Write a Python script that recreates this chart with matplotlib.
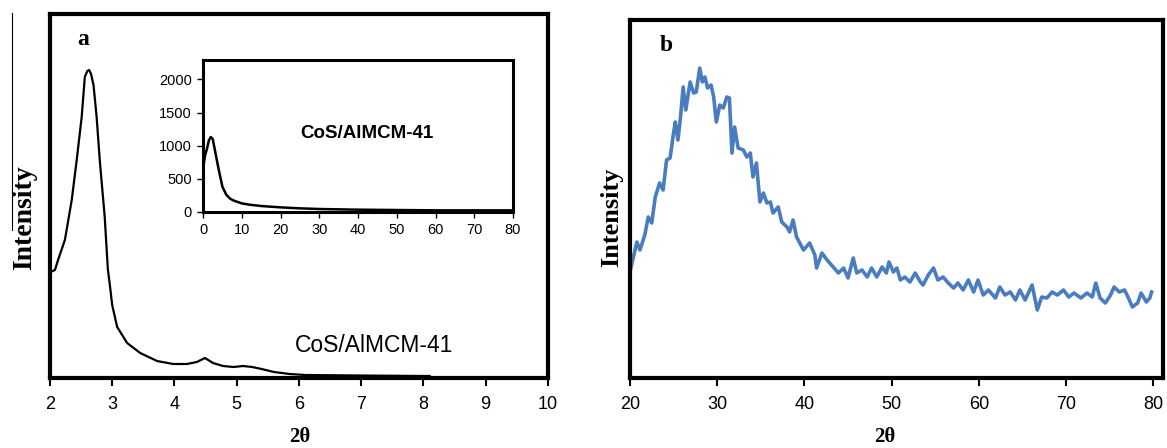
import matplotlib
matplotlib.use('Agg')
import matplotlib.pyplot as plt
from matplotlib.lines import Line2D

# panel a: low-angle pattern (relative intensity, no scale)
xa = [2.0, 2.01, 2.08, 2.13, 2.24, 2.35, 2.43, 2.51, 2.56, 2.6, 2.63, 2.66, 2.70, 2.75,
      2.80, 2.88, 2.93, 2.97, 3.0, 3.08, 3.24, 3.45, 3.72, 3.98, 4.2, 4.36, 4.49, 4.62,
      4.78, 4.95, 5.1, 5.25, 5.4, 5.6, 5.85, 6.1, 7.0, 8.0, 8.1]
ya = [130, 105, 107, 117, 137, 177, 217, 260, 300, 306, 307, 303, 292, 260,
      217, 160, 108, 88, 72, 50, 34, 24, 16, 13, 13, 15, 19, 14,
      11, 10, 11, 10, 8, 5, 3, 2, 1.5, 1, 1]

# inset: full range pattern
x_in = [0, 0.5, 1, 1.5, 2, 2.5, 3, 4, 5, 6, 7, 8, 10, 12, 15, 20, 25, 30, 40, 50, 60, 70, 80]
y_in = [650, 850, 950, 1080, 1130, 1100, 950, 650, 380, 260, 200, 170, 130, 110, 90,
        70, 55, 45, 35, 30, 25, 25, 25]

# panel b: wide-angle pattern
xb = [20.0, 20.8, 21.15, 21.7, 22.1, 22.5, 22.9, 23.4, 23.8, 24.2, 24.6, 25.0, 25.2,
      25.5, 25.8, 26.1, 26.4, 26.9, 27.3, 27.6, 28.0, 28.3, 28.6, 28.9, 29.3, 29.6,
      29.9, 30.3, 30.7, 31.1, 31.4, 31.7, 32.0, 32.4, 33.0, 33.4, 33.8, 34.1, 34.5,
      34.9, 35.3, 35.7, 36.1, 36.4, 37.0, 37.4, 38.0, 38.3, 38.7, 39.1, 39.9, 40.6,
      41.2, 41.4, 42.0, 42.6, 43.3, 43.9, 44.5, 45.0, 45.6, 46.0, 46.6, 47.2, 47.7,
      48.3, 48.9, 49.4, 49.7, 50.2, 50.6, 51.0, 51.5, 52.1, 52.7, 53.3, 53.6, 54.2,
      54.8, 55.3, 55.9, 56.5, 57.1, 57.6, 58.2, 58.8, 59.4, 59.9, 60.5, 61.1, 61.9,
      62.4, 63.0, 63.6, 64.2, 64.7, 65.3, 66.1, 66.7, 67.2, 67.8, 68.4, 69.0, 69.7,
      70.3, 70.9, 71.7, 72.4, 73.0, 73.4, 73.9, 74.5, 75.1, 75.5, 76.1, 76.7, 77.1,
      77.6, 78.2, 78.6, 79.2, 79.6, 79.8]
yb = [110, 140, 132, 147, 165, 159, 185, 199, 192, 222, 224, 249, 260,
      242, 265, 295, 272, 300, 289, 290, 314, 300, 305, 294, 297, 285,
      260, 277, 274, 285, 284, 229, 255, 234, 232, 225, 229, 205, 219,
      180, 189, 179, 180, 169, 175, 160, 155, 150, 162, 145, 132, 139,
      127, 114, 129, 122, 115, 109, 114, 104, 124, 109, 112, 105, 114,
      105, 115, 109, 120, 110, 114, 102, 105, 100, 109, 100, 97, 107,
      114, 102, 105, 99, 94, 99, 92, 102, 90, 102, 87, 92, 84,
      95, 87, 90, 82, 92, 82, 97, 72, 85, 84, 90, 87, 92,
      85, 89, 84, 89, 85, 99, 84, 79, 87, 95, 90, 92, 85,
      75, 79, 89, 80, 84, 90]

ticks_a = [2, 3, 4, 5, 6, 7, 8, 9, 10]
ticks_in = [0, 10, 20, 30, 40, 50, 60, 70, 80]
yticks_in = [0, 500, 1000, 1500, 2000]
ticks_b = [20, 30, 40, 50, 60, 70, 80]

serif = ['Liberation Serif', 'DejaVu Serif']
sans = ['Liberation Sans', 'DejaVu Sans']

fig = plt.figure(figsize=(11.67, 4.48), dpi=100)

# ---- panel a
ax = fig.add_axes([0.0428, 0.15625, 0.4267, 0.8125])
ax.plot(xa, ya, color='black', lw=1.6)
ax.set_xlim(2, 10)
ax.set_ylim(-1, 363)
ax.set_xticks(ticks_a)
ax.set_xticklabels([str(t) for t in ticks_a], family=sans, fontsize=13)
ax.set_yticks([])
ax.tick_params(axis='x', direction='out', length=6, width=1.5, pad=7)
for s in ax.spines.values():
    s.set_linewidth(3)
ax.text(0.055, 0.93, 'a', transform=ax.transAxes, family=serif, fontweight='bold',
        fontsize=17, ha='left', va='center')
ax.text(0.65, 0.09, 'CoS/AlMCM-41', transform=ax.transAxes, family=sans,
        fontsize=16.5, ha='center', va='center')
fig.text(0.0215, 0.515, 'Intensity', rotation=90, family=serif, fontweight='bold',
         fontsize=20, ha='center', va='center')
fig.text(0.257, 0.025, '2θ', family=serif, fontweight='bold', fontsize=15,
         ha='center', va='center')

# ---- inset
axi = fig.add_axes([0.174, 0.5268, 0.2656, 0.339])
axi.plot(x_in, y_in, color='black', lw=1.8)
axi.set_xlim(0, 80)
axi.set_ylim(0, 2290)
axi.set_xticks(ticks_in)
axi.set_xticklabels([str(t) for t in ticks_in], family=sans, fontsize=10.5)
axi.set_yticks(yticks_in)
axi.set_yticklabels([str(t) for t in yticks_in], family=sans, fontsize=10.5)
axi.tick_params(direction='out', length=4, width=1, pad=4)
for s in axi.spines.values():
    s.set_linewidth(2.2)
axi.text(0.53, 0.52, 'CoS/AlMCM-41', transform=axi.transAxes, family=sans,
         fontweight='bold', fontsize=13.5, ha='center', va='center')

# ---- panel b
axb = fig.add_axes([0.5398, 0.15625, 0.4567, 0.7991])
axb.plot(xb, yb, color='#4a7dbf', lw=2.6)
axb.set_xlim(20, 81.1)
axb.set_ylim(4, 362)
axb.set_xticks(ticks_b)
axb.set_xticklabels([str(t) for t in ticks_b], family=sans, fontsize=13)
axb.set_yticks([])
axb.tick_params(axis='x', direction='out', length=6, width=1.5, pad=7)
for s in axb.spines.values():
    s.set_linewidth(3)
axb.text(0.055, 0.93, 'b', transform=axb.transAxes, family=serif, fontweight='bold',
         fontsize=17, ha='left', va='center')
fig.text(0.524, 0.515, 'Intensity', rotation=90, family=serif, fontweight='bold',
         fontsize=19, ha='center', va='center')
fig.text(0.758, 0.025, '2θ', family=serif, fontweight='bold', fontsize=15,
         ha='center', va='center')

# stray thin rule at far left
fig.add_artist(Line2D([0.0103, 0.0103], [0.971, 0.487], transform=fig.transFigure,
                      color='black', lw=0.8))

fig.savefig('out.png', dpi=100)
